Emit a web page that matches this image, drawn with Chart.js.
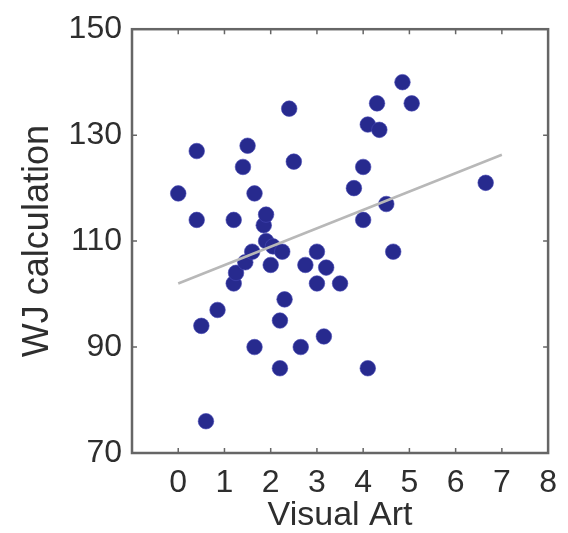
<!DOCTYPE html>
<html>
<head>
<meta charset="utf-8">
<script src="https://cdn.jsdelivr.net/npm/chart.js@4/dist/chart.umd.min.js"></script>
<style>
  html, body { margin: 0; padding: 0; background: #fff; }
  #wrap { width: 568px; height: 533px; }
</style>
</head>
<body>
<div id="wrap"><canvas id="chart" width="568" height="533"></canvas></div>
<script>
// scatter values
const artScores = [0, 0.4, 0.4, 0.5, 0.6, 0.85, 1.2, 1.2, 1.25, 1.45, 1.4, 1.5, 1.65, 1.65, 1.6,
  1.85, 1.9, 1.9, 2.05, 2.0, 2.25, 2.3, 2.2, 2.2, 2.4, 2.5, 2.65, 2.75, 3.0, 3.2,
  3.0, 3.15, 3.5, 3.8, 4.0, 4.0, 4.1, 4.35, 4.3, 4.85, 5.05, 4.5, 4.65, 4.1, 6.65];
const calcScores = [119, 127, 114, 94, 76, 97, 114, 102, 104, 106, 124, 128, 119, 90, 108,
  113, 115, 110, 109, 105.5, 108, 99, 95, 86, 135, 125, 90, 105.5, 108, 105,
  102, 92, 102, 120, 124, 114, 132, 131, 136, 140, 136, 117, 108, 86, 121];

// fitted line end points
const trendX = [0, 7];
const trendY = [102, 126.3];

const xTicks = [0, 1, 2, 3, 4, 5, 6, 7, 8];
const yTicks = [70, 90, 110, 130, 150];

const fontFamily = '"Liberation Sans", Arial, Helvetica, sans-serif';
const frameColor = '#666';
const textColor = '#2e2e2e';

// box round the plot and inward tick marks on all four sides
const framePlugin = {
  id: 'frame',
  afterDraw(chart) {
    const { ctx, chartArea: a, scales } = chart;
    ctx.save();
    ctx.strokeStyle = frameColor;
    ctx.lineWidth = 2.5;
    ctx.strokeRect(a.left, a.top, a.right - a.left, a.bottom - a.top);
    ctx.lineWidth = 1.5;
    ctx.beginPath();
    xTicks.forEach(v => {
      const px = scales.x.getPixelForValue(v);
      ctx.moveTo(px, a.bottom); ctx.lineTo(px, a.bottom - 5);
      ctx.moveTo(px, a.top); ctx.lineTo(px, a.top + 5);
    });
    yTicks.forEach(v => {
      const py = scales.y.getPixelForValue(v);
      ctx.moveTo(a.left, py); ctx.lineTo(a.left + 5, py);
      ctx.moveTo(a.right, py); ctx.lineTo(a.right - 5, py);
    });
    ctx.stroke();
    ctx.restore();
  }
};

const points = artScores.map((x, i) => ({ x, y: calcScores[i] }));
const trend = trendX.map((x, i) => ({ x, y: trendY[i] }));

new Chart(document.getElementById('chart'), {
  type: 'scatter',
  data: {
    datasets: [
      {
        type: 'line',
        data: trend,
        borderColor: '#b8b8b8',
        borderWidth: 2.5,
        pointRadius: 0,
        fill: false,
        order: 0
      },
      {
        data: points,
        backgroundColor: '#272a8e',
        borderColor: 'rgba(70, 72, 180, 0.6)',
        borderWidth: 1,
        pointRadius: 7.8,
        pointHoverRadius: 7.8,
        order: 1
      }
    ]
  },
  options: {
    responsive: false,
    animation: false,
    layout: { padding: { top: 20, right: 10, left: 0, bottom: 0 } },
    plugins: {
      legend: { display: false },
      tooltip: { enabled: false }
    },
    scales: {
      x: {
        type: 'linear',
        min: -1,
        max: 8,
        afterBuildTicks: s => { s.ticks = xTicks.map(v => ({ value: v })); },
        afterFit: s => { s.height = 80; },
        grid: { display: false, drawTicks: false },
        border: { display: false },
        ticks: {
          padding: 11,
          color: textColor,
          font: { family: fontFamily, size: 32 }
        },
        title: {
          display: true,
          text: 'Visual Art',
          color: textColor,
          padding: { top: 0, bottom: 0 },
          font: { family: fontFamily, size: 34, lineHeight: 1 }
        }
      },
      y: {
        min: 70,
        max: 150,
        afterBuildTicks: s => { s.ticks = yTicks.map(v => ({ value: v })); },
        afterFit: s => { s.width = 132; },
        grid: { display: false, drawTicks: false },
        border: { display: false },
        ticks: {
          padding: 10,
          color: textColor,
          font: { family: fontFamily, size: 32 }
        },
        title: {
          display: true,
          text: 'WJ calculation',
          color: textColor,
          padding: { top: 16, bottom: 0 },
          font: { family: fontFamily, size: 36 }
        }
      }
    }
  },
  plugins: [framePlugin]
});
</script>
</body>
</html>
